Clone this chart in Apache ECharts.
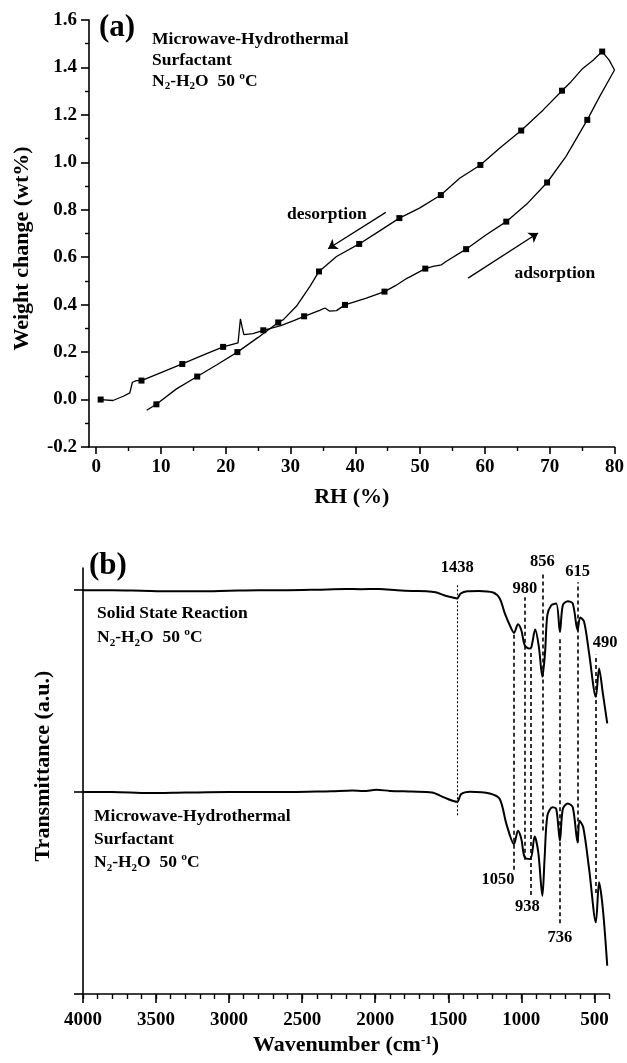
<!DOCTYPE html>
<html>
<head>
<meta charset="utf-8">
<script src="https://cdn.jsdelivr.net/npm/echarts@6/dist/echarts.min.js"></script>
<style>
  html, body { margin: 0; padding: 0; background: #fff; }
  #chart { width: 627px; height: 1063px; }
</style>
</head>
<body>
<div id="chart"></div>
<script>
// ---------- Panel (a): water vapour sorption at 50 °C ----------
const adsorptionRH = [0.7, 2.6, 4.2, 5.2, 5.6, 6.2, 7.0, 10.1, 13.3, 16.4, 19.6, 21.9, 22.05, 22.27, 22.5, 22.8,
  24.2, 25.8, 28.5, 30.5, 32.1, 34.5, 35.3, 36.0, 37.1, 38.4, 41.7, 44.5, 46.2, 47.9, 50.8, 52.0, 53.3, 54.0,
  57.1, 60.2, 63.3, 66.5, 69.6, 72.5, 75.8, 77.7, 80.0, 79.2, 78.1];
const adsorptionWt = [0.0, -0.004, 0.014, 0.028, 0.073, 0.08, 0.08, 0.115, 0.150, 0.186, 0.222, 0.239, 0.28, 0.34, 0.309, 0.274,
  0.278, 0.292, 0.312, 0.333, 0.351, 0.376, 0.386, 0.373, 0.375, 0.399, 0.428, 0.455, 0.480, 0.510, 0.552, 0.561, 0.568, 0.582,
  0.634, 0.695, 0.750, 0.825, 0.915, 1.024, 1.179, 1.277, 1.389, 1.430, 1.467];
const adsorptionMarkerIdx = [0, 6, 8, 10, 17, 20, 25, 27, 30, 34, 36, 38, 40];

const desorptionRH = [78.1, 76.7, 75.1, 73.3, 71.9, 69.0, 65.6, 62.3, 59.3, 56.1, 53.2, 49.9, 46.8, 43.7, 40.6, 37.1,
  34.4, 33.0, 30.9, 28.9, 28.1, 25.0, 21.8, 18.7, 15.6, 12.4, 9.3, 7.8];
const desorptionWt = [1.467, 1.430, 1.396, 1.340, 1.302, 1.221, 1.134, 1.060, 0.989, 0.933, 0.862, 0.807, 0.765, 0.710, 0.656, 0.603,
  0.540, 0.477, 0.393, 0.337, 0.325, 0.262, 0.200, 0.148, 0.097, 0.045, -0.020, -0.045];
const desorptionMarkerIdx = [0, 4, 6, 8, 10, 12, 14, 16, 20, 22, 24, 26];

const rhTicks = [0, 10, 20, 30, 40, 50, 60, 70, 80];
const rhMinorTicks = [5, 15, 25, 35, 45, 55, 65, 75];

// direction arrows and their captions (RH, wt%)
const desorptionArrow = [[44.7, 0.789], [35.8, 0.636]];
const adsorptionArrow = [[57.4, 0.512], [68.2, 0.702]];
const sorptionNotes = [
  { text: 'desorption', at: [35.6, 0.779] },
  { text: 'adsorption', at: [70.8, 0.533] }
];

// ---------- Panel (b): FTIR spectra ----------
const ssrWavenumber = [4000, 3800, 3600, 3400, 3200, 3000, 2800, 2600, 2400, 2200, 2100, 1974, 1850, 1747, 1650, 1587,
  1530, 1470, 1440, 1415, 1370, 1292, 1193, 1148, 1113, 1079, 1050, 1023, 1000, 977, 947, 932, 905, 880, 856, 838,
  822, 795, 761, 736, 716, 682, 648, 615, 597, 570, 536, 490, 468, 442, 412];
const ssrTransmittance = [0, 0, -0.005, -0.01, -0.01, -0.005, 0, 0, 0.005, 0.012, 0.01, 0.012, 0, -0.007, -0.01, -0.02,
  -0.05, -0.072, -0.082, -0.033, -0.01, -0.007, -0.023, -0.082, -0.23, -0.347, -0.423, -0.337, -0.396, -0.545, -0.577, -0.567,
  -0.389, -0.561, -0.858, -0.624, -0.248, -0.149, -0.132, -0.413, -0.149, -0.109, -0.132, -0.396, -0.27, -0.314, -0.627,
  -1.056, -0.775, -1.023, -1.32];

const mhWavenumber = [4000, 3800, 3553, 3300, 3000, 2700, 2400, 2300, 2158, 2080, 1991, 1900, 1750, 1612,
  1530, 1440, 1412, 1350, 1216, 1148, 1102, 1050, 1023, 1000, 977, 938, 909, 884, 856, 841, 822, 788, 761, 736,
  716, 682, 648, 615, 602, 576, 536, 490, 468, 442, 412];
const mhTransmittance = [0, 0, -0.01, -0.005, 0, 0, 0.005, 0.008, 0.017, 0.01, 0.023, 0.012, 0.005, -0.003,
  -0.052, -0.096, -0.02, 0.003, -0.013, -0.069, -0.317, -0.515, -0.383, -0.465, -0.647, -0.663, -0.439, -0.597,
  -1.027, -0.663, -0.235, -0.151, -0.168, -0.482, -0.168, -0.112, -0.151, -0.498, -0.284, -0.35, -0.762, -1.29,
  -0.894, -1.158, -1.72];

const ssrOffset = 4;   // vertical stacking of the two spectra
const mhOffset = 2;

const wavenumberTicks = [4000, 3500, 3000, 2500, 2000, 1500, 1000, 500];
const peakWavenumbers = [1438, 1050, 980, 938, 856, 736, 615, 490];
// vertical extent of each guide line and where its caption sits (transmittance units)
const peakGuideSpans = [[1.77, 4.07], [1.23, 3.57], [1.33, 3.93], [0.98, 3.41], [1.62, 4.18], [0.70, 3.53], [1.50, 4.08], [1.00, 3.36]];
const peakLabelAnchors = [[1438, 4.22], [1160, 1.13], [975, 4.01], [958, 0.86], [856, 4.28], [736, 0.56], [615, 4.18], [426, 3.48]];

// ---------- chart ----------
const FONT = 'Liberation Serif';
const INK = '#000';
const boldText = { fontFamily: FONT, fontWeight: 'bold', color: INK };
const subStyle = { fontFamily: FONT, fontWeight: 'bold', color: INK, fontSize: 11, lineHeight: 12, verticalAlign: 'bottom' };

const pairs = (xs, ys, off = 0) => xs.map((x, i) => [x, ys[i] + off]);
const pick = (xs, ys, idx) => idx.map(i => [xs[i], ys[i]]);

const chart = echarts.init(document.getElementById('chart'), null, { renderer: 'canvas' });

const axisLineStyle = { show: true, onZero: false, lineStyle: { color: INK, width: 1.6 } };

const option = {
  animation: false,
  backgroundColor: '#fff',
  title: [
    { text: '(a)', left: 99, top: 12, padding: 0, textStyle: Object.assign({ fontSize: 31 }, boldText) },
    { text: 'Microwave-Hydrothermal\nSurfactant\nN{s|2}-H{s|2}O  50 ºC', left: 152, top: 29, padding: 0,
      textStyle: Object.assign({ fontSize: 17.5, lineHeight: 21, rich: { s: subStyle } }, boldText) },
    { text: '(b)', left: 89, top: 550, padding: 0, textStyle: Object.assign({ fontSize: 31 }, boldText) },
    { text: 'Solid State Reaction\nN{s|2}-H{s|2}O  50 ºC', left: 97, top: 601, padding: 0,
      textStyle: Object.assign({ fontSize: 17.5, lineHeight: 24, rich: { s: subStyle } }, boldText) },
    { text: 'Microwave-Hydrothermal\nSurfactant\nN{s|2}-H{s|2}O  50 ºC', left: 94, top: 805, padding: 0,
      textStyle: Object.assign({ fontSize: 17.5, lineHeight: 23, rich: { s: subStyle } }, boldText) }
  ],
  grid: [
    { left: 89, right: 12, top: 20, bottom: 616 },
    { left: 83, right: 18, top: 568, bottom: 69 }
  ],
  xAxis: [
    { // RH
      type: 'value', gridIndex: 0, min: -1.1, max: 80, position: 'bottom',
      axisLine: axisLineStyle,
      axisTick: { show: true, customValues: rhTicks, length: 7, lineStyle: { color: INK, width: 1.6 } },
      axisLabel: { customValues: rhTicks, margin: 11, fontSize: 19, ...boldText },
      splitLine: { show: false },
      name: 'RH (%)', nameLocation: 'middle', nameGap: 39,
      nameTextStyle: Object.assign({ fontSize: 22 }, boldText)
    },
    { // RH minor ticks
      type: 'value', gridIndex: 0, min: -1.1, max: 80, position: 'bottom',
      axisLine: { show: false, onZero: false },
      axisTick: { show: true, customValues: rhMinorTicks, length: 4, lineStyle: { color: INK, width: 1.4 } },
      axisLabel: { show: false }, splitLine: { show: false }
    },
    { // wavenumber
      type: 'value', gridIndex: 1, min: 400, max: 4000, inverse: true, position: 'bottom',
      axisLine: axisLineStyle,
      axisTick: { show: true, customValues: wavenumberTicks, length: 9, lineStyle: { color: INK, width: 1.6 } },
      axisLabel: { customValues: wavenumberTicks, margin: 17, fontSize: 19, formatter: v => String(v), ...boldText },
      splitLine: { show: false },
      name: 'Wavenumber (cm{sup|-1})', nameLocation: 'middle', nameGap: 40,
      nameTextStyle: Object.assign({ fontSize: 22, rich: { sup: { fontFamily: FONT, fontWeight: 'bold', color: INK, fontSize: 13, lineHeight: 12, verticalAlign: 'top' } } }, boldText)
    },
    { // wavenumber minor ticks
      type: 'value', gridIndex: 1, min: 400, max: 4000, inverse: true, interval: 100, position: 'bottom',
      axisLine: { show: false, onZero: false },
      axisTick: { show: true, length: 5, lineStyle: { color: INK, width: 1.4 } },
      axisLabel: { show: false }, splitLine: { show: false }
    }
  ],
  yAxis: [
    {
      type: 'value', gridIndex: 0, min: -0.2, max: 1.6, interval: 0.2,
      axisLine: axisLineStyle,
      axisTick: { show: true, length: 8, lineStyle: { color: INK, width: 1.6 } },
      minorTick: { show: true, splitNumber: 2, length: 4, lineStyle: { color: INK, width: 1.4 } },
      axisLabel: { margin: 12, fontSize: 19, formatter: v => v.toFixed(1), ...boldText },
      splitLine: { show: false },
      name: 'Weight change (wt%)', nameLocation: 'middle', nameGap: 56,
      nameTextStyle: Object.assign({ fontSize: 22, padding: [0, 30, 0, 0] }, boldText)
    },
    {
      type: 'value', gridIndex: 1, min: 0, max: 4.22,
      axisLine: axisLineStyle,
      axisTick: { show: true, customValues: [0, 2, 4], length: 9, lineStyle: { color: INK, width: 1.6 } },
      axisLabel: { show: false },
      splitLine: { show: false },
      name: 'Transmittance (a.u.)', nameLocation: 'middle', nameGap: 29,
      nameTextStyle: Object.assign({ fontSize: 22, padding: [0, 0, 0, 30] }, boldText)
    }
  ],
  series: [
    {
      name: 'adsorption', type: 'line', xAxisIndex: 0, yAxisIndex: 0,
      data: pairs(adsorptionRH, adsorptionWt), showSymbol: false,
      lineStyle: { color: INK, width: 1.3 },
      markLine: {
        silent: true, symbol: ['none', 'arrow'], symbolSize: 9,
        label: { show: false },
        lineStyle: { color: INK, width: 1.3, type: 'solid', opacity: 1 },
        data: [
          [{ coord: desorptionArrow[0] }, { coord: desorptionArrow[1] }],
          [{ coord: adsorptionArrow[0] }, { coord: adsorptionArrow[1] }]
        ]
      }
    },
    {
      name: 'desorption', type: 'line', xAxisIndex: 0, yAxisIndex: 0,
      data: pairs(desorptionRH, desorptionWt), showSymbol: false,
      lineStyle: { color: INK, width: 1.3 }
    },
    {
      name: 'markers', type: 'scatter', xAxisIndex: 0, yAxisIndex: 0,
      data: pick(adsorptionRH, adsorptionWt, adsorptionMarkerIdx).concat(pick(desorptionRH, desorptionWt, desorptionMarkerIdx)),
      symbol: 'rect', symbolSize: 6, itemStyle: { color: INK, opacity: 1 }
    },
    {
      name: 'notes', type: 'scatter', xAxisIndex: 0, yAxisIndex: 0, symbolSize: 0, clip: false,
      itemStyle: { color: INK, opacity: 1 },
      data: sorptionNotes.map(n => ({ value: n.at, name: n.text })),
      label: { show: true, position: 'inside', formatter: p => p.name, fontSize: 17.5, ...boldText }
    },
    {
      name: 'Solid State Reaction', type: 'line', xAxisIndex: 2, yAxisIndex: 1,
      data: pairs(ssrWavenumber, ssrTransmittance, ssrOffset), showSymbol: false, smooth: 0.3,
      lineStyle: { color: INK, width: 2 }
    },
    {
      name: 'Microwave-Hydrothermal', type: 'line', xAxisIndex: 2, yAxisIndex: 1,
      data: pairs(mhWavenumber, mhTransmittance, mhOffset), showSymbol: false, smooth: 0.3,
      lineStyle: { color: INK, width: 2 },
      markLine: {
        silent: true, symbol: ['none', 'none'],
        label: { show: false },
        data: peakWavenumbers.map((wn, i) => [
          { coord: [wn, peakGuideSpans[i][0]],
            lineStyle: wn === 1438
              ? { color: INK, width: 1.1, type: [2, 2], opacity: 1 }
              : { color: INK, width: 1.6, type: [4, 3], opacity: 1 } },
          { coord: [wn, peakGuideSpans[i][1]] }
        ])
      }
    },
    {
      name: 'peak labels', type: 'scatter', xAxisIndex: 2, yAxisIndex: 1, symbolSize: 0, clip: false,
      itemStyle: { color: INK, opacity: 1 },
      data: peakWavenumbers.map((wn, i) => ({ value: peakLabelAnchors[i], name: String(wn) })),
      label: { show: true, position: 'inside', formatter: p => p.name, fontSize: 16.5, ...boldText }
    }
  ]
};

chart.setOption(option);
</script>
</body>
</html>
